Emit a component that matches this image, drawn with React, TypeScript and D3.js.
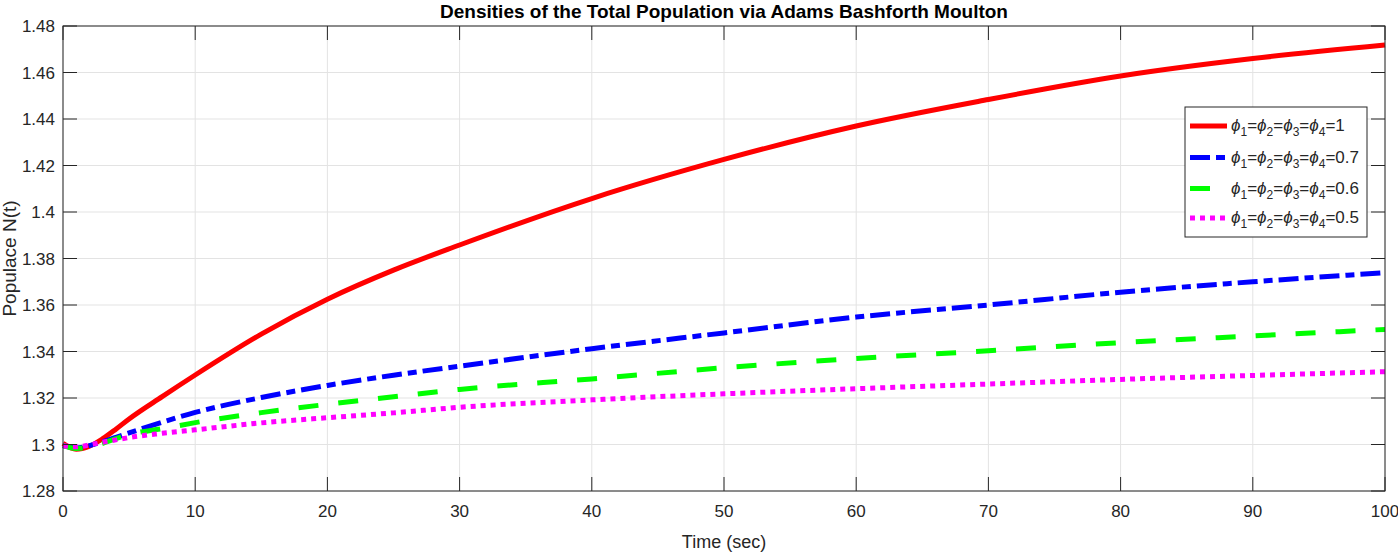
import React from "react";
import * as d3 from "d3";

const time = [0, 1, 2, 3, 4, 5, 7.5, 10, 15, 20, 25, 30, 40, 50, 60, 70, 80, 90, 100];
const red1 = [1.3005, 1.298, 1.2993, 1.3025, 1.3066, 1.311, 1.3206, 1.3299, 1.3475, 1.3625, 1.375, 1.3858, 1.4058, 1.4226, 1.437, 1.4484, 1.4585, 1.466, 1.4718];
const blue07 = [1.2995, 1.2985, 1.2995, 1.3012, 1.3031, 1.305, 1.3096, 1.3138, 1.3202, 1.3254, 1.3298, 1.3337, 1.3412, 1.348, 1.3548, 1.36, 1.3655, 1.37, 1.3739];
const green06 = [1.2995, 1.2983, 1.299, 1.3005, 1.3025, 1.3043, 1.3068, 1.3094, 1.3137, 1.3173, 1.3205, 1.3237, 1.3282, 1.333, 1.337, 1.3403, 1.3438, 1.3467, 1.3495];
const mag05 = [1.2995, 1.299, 1.2998, 1.301, 1.302, 1.303, 1.3048, 1.3063, 1.3093, 1.3115, 1.3136, 1.316, 1.3192, 1.3218, 1.324, 1.326, 1.328, 1.3297, 1.3313];

const xTicks = [0, 10, 20, 30, 40, 50, 60, 70, 80, 90, 100];
const yTicks = [1.28, 1.3, 1.32, 1.34, 1.36, 1.38, 1.4, 1.42, 1.44, 1.46, 1.48];
const legendValues = ["1", "0.7", "0.6", "0.5"];

const series = [
  { values: red1, color: "#ff0000", dash: "none" },
  { values: blue07, color: "#0000ff", dash: "20,6,9,6" },
  { values: green06, color: "#00ff00", dash: "20,20" },
  { values: mag05, color: "#ff00ff", dash: "5,5" },
];

const W = 1398, H = 554;
const L = 63, T = 26, R = 1385, B = 491;
const font = "'Liberation Sans', Arial, sans-serif";

function PhiLabel({ x, y, value }: { x: number; y: number; value: string }) {
  const parts: React.ReactNode[] = [];
  for (let i = 1; i <= 4; i++) {
    if (i > 1) parts.push(<tspan key={"e" + i} dy={-5}>=</tspan>);
    parts.push(
      <tspan key={"p" + i} fontStyle="italic">{"ϕ"}</tspan>
    );
    parts.push(
      <tspan key={"s" + i} fontSize={12} dy={5}>{String(i)}</tspan>
    );
  }
  parts.push(<tspan key="v" dy={-5}>{"=" + value}</tspan>);
  return (
    <text x={x} y={y} fontFamily={font} fontSize={17} fill="#262626">{parts}</text>
  );
}

export default function App() {
  const x = d3.scaleLinear().domain([0, 100]).range([L, R]);
  const y = d3.scaleLinear().domain([1.28, 1.48]).range([B, T]);
  const line = d3
    .line<number>()
    .x((_, i) => x(time[i]))
    .y((d) => y(d))
    .curve(d3.curveMonotoneX);

  const legX = 1185, legY = 107, legW = 182, legH = 130;
  const rowY = [126, 157.5, 188.5, 218];

  return (
    <svg width={W} height={H} style={{ position: "absolute", left: 0, top: 0, background: "#fff" }}>
      <rect x={0} y={0} width={W} height={H} fill="#fff" />
      {xTicks.map((t) => (
        <line key={"gx" + t} x1={x(t)} x2={x(t)} y1={T} y2={B} stroke="#e3e3e3" strokeWidth={1} />
      ))}
      {yTicks.map((t) => (
        <line key={"gy" + t} x1={L} x2={R} y1={y(t)} y2={y(t)} stroke="#e3e3e3" strokeWidth={1} />
      ))}
      {series.map((s, i) => (
        <path
          key={"s" + i}
          d={line(s.values) || ""}
          fill="none"
          stroke={s.color}
          strokeWidth={5}
          strokeDasharray={s.dash}
          strokeLinecap="butt"
        />
      ))}
      {xTicks.map((t) => (
        <g key={"tx" + t}>
          <line x1={x(t)} x2={x(t)} y1={B} y2={B - 14} stroke="#262626" />
          <line x1={x(t)} x2={x(t)} y1={T} y2={T + 14} stroke="#262626" />
          <text x={x(t)} y={517} textAnchor="middle" fontFamily={font} fontSize={17} fill="#262626">{t}</text>
        </g>
      ))}
      {yTicks.map((t) => (
        <g key={"ty" + t}>
          <line x1={L} x2={L + 14} y1={y(t)} y2={y(t)} stroke="#262626" />
          <line x1={R} x2={R - 14} y1={y(t)} y2={y(t)} stroke="#262626" />
          <text x={55} y={y(t) + 6} textAnchor="end" fontFamily={font} fontSize={17} fill="#262626">{String(t)}</text>
        </g>
      ))}
      <rect x={L} y={T} width={R - L} height={B - T} fill="none" stroke="#262626" strokeWidth={1} />
      <text x={(L + R) / 2} y={548} textAnchor="middle" fontFamily={font} fontSize={18} fill="#262626">Time (sec)</text>
      <text transform={`translate(16,${(T + B) / 2}) rotate(-90)`} textAnchor="middle" fontFamily={font} fontSize={19} fill="#262626">Populace N(t)</text>
      <text x={(L + R) / 2} y={18} textAnchor="middle" fontFamily={font} fontSize={19} fontWeight="bold" fill="#000">Densities of the Total Population via Adams Bashforth Moulton</text>
      <rect x={legX} y={legY} width={legW} height={legH} fill="#fff" stroke="#262626" strokeWidth={1} />
      {series.map((s, i) => (
        <g key={"l" + i}>
          <line x1={1190} x2={1227} y1={rowY[i]} y2={rowY[i]} stroke={s.color} strokeWidth={5} strokeDasharray={s.dash} />
          <PhiLabel x={1231} y={rowY[i] + 5} value={legendValues[i]} />
        </g>
      ))}
    </svg>
  );
}
